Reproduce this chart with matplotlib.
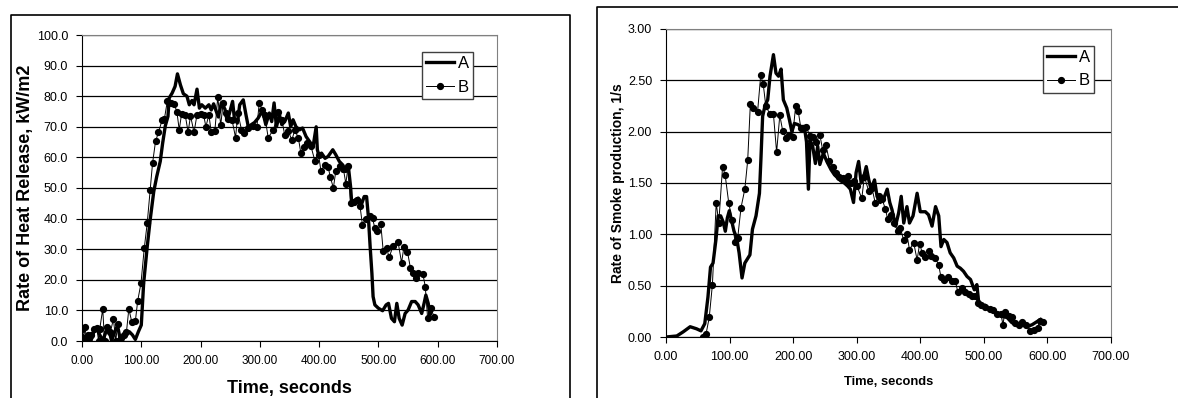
import numpy as np
import matplotlib
matplotlib.use("Agg")
import matplotlib.pyplot as plt
from matplotlib.lines import Line2D

plt.rcParams['font.family'] = ['Liberation Sans', 'DejaVu Sans']

# ---------------- Heat release (left panel) ----------------
hrr_t_a = [0, 5, 10, 15, 20, 25, 30, 35, 40, 45, 50, 55, 60, 65, 70, 75, 80, 85, 90, 95,
           100, 104, 110, 115, 121, 126, 132, 136, 140.5, 145, 147, 152, 157, 161, 166, 171,
           177, 181, 185.5, 189, 194, 198, 202, 208, 214, 218, 222, 226, 230, 235, 241, 244.5,
           248, 254, 257, 262, 266, 272, 276.6, 281, 285.5, 291, 297, 302, 306, 310, 316, 320,
           324, 328, 333, 337, 342, 348, 352, 356, 361, 367, 372, 378, 382, 386, 390, 395, 397,
           400, 404, 410, 415, 423, 428, 434, 440, 445, 449, 453, 455, 460, 466, 472, 476, 480,
           483, 486, 489, 491, 494, 500, 507, 513, 517, 522, 527, 531, 535, 540, 545, 550, 556,
           562, 567, 573, 577, 580, 584, 587, 590]
hrr_a = [2, 0, 2, 0, 3, 4, 2, 0, 3, 4, 0, 3, 5, 0, 2, 3, 3, 2, 0.5, 3,
         5.2, 18.9, 30.8, 39.6, 48.8, 53.7, 58.7, 64.6, 70.3, 73.4, 79.4, 81.0, 83.2, 87.3, 83.7, 80.8,
         80.0, 77.2, 78.6, 77.2, 82.3, 76.1, 77.2, 76.1, 77.2, 75.5, 77.5, 75.3, 73.2, 77.8, 75.8, 72.3,
         73.9, 78.3, 72.8, 71.2, 77.2, 78.8, 73.9, 69.5, 70.7, 71.4, 72.8, 74.5, 74.0, 70.7, 74.5, 71.7,
         77.8, 70.0, 74.0, 70.7, 71.7, 74.5, 70.0, 72.3, 70.0, 69.0, 69.6, 66.8, 65.7, 64.6, 63.8, 70.0, 62.5,
         60.3, 61.4, 59.7, 60.3, 62.5, 60.9, 58.7, 57.5, 55.4, 57.5, 50.5, 45.0, 46.0, 46.7, 45.0, 47.2, 47.2,
         40.7, 30.9, 22.1, 14.5, 11.8, 10.7, 9.9, 11.8, 12.3, 7.4, 6.3, 12.3, 7.4, 5.2, 9.0, 10.1, 12.9,
         12.9, 11.8, 9.0, 12.3, 15.0, 12.3, 8.5, 10.1]

hrr_t_b = [0, 3, 5, 8, 10, 15, 20, 25, 28, 30, 35, 38, 43, 48, 53, 57, 60, 65, 70, 75,
           79, 84, 90, 94, 99.5, 105, 110, 115, 119, 124, 129, 135, 139, 144, 150, 155, 160,
           164, 168, 174, 179, 183, 189, 194, 200, 205, 209, 214, 218, 224, 229, 234, 238, 243,
           247, 253, 259, 263, 269, 274, 280, 288, 295, 299, 304, 308, 314, 323, 331, 337, 342,
           348, 354, 359, 365, 369, 374, 380, 386, 393, 399, 403, 410, 415, 419, 424, 428, 435,
           441, 445, 449, 453, 459, 464, 469, 473, 479, 486, 490, 494, 498, 504, 508, 514, 518,
           525, 533, 539, 543, 549, 554, 559, 563, 567, 575, 579, 583, 588, 594]
hrr_b = [3.8, 1.0, 4.7, 0.0, 2.0, 2.0, 4.0, 4.2, 0.0, 4.0, 10.5, 0.0, 4.5, 3.0, 7.2, 0.0, 5.5, 1.0, 2.0, 3.0,
         10.5, 6.2, 6.5, 13.2, 18.9, 30.3, 38.5, 49.4, 58.1, 65.2, 68.2, 72.1, 72.6, 78.5, 77.8, 77.6, 75.0,
         69.0, 74.3, 74.0, 68.2, 73.6, 68.2, 74.0, 74.3, 74.0, 70.0, 74.0, 68.2, 68.5, 79.7, 70.5, 77.8, 74.5,
         72.5, 72.3, 66.5, 74.5, 69.0, 68.0, 69.6, 70.3, 70.0, 77.8, 75.5, 74.0, 66.5, 69.0, 75.0, 72.3, 67.3,
         68.5, 65.7, 69.0, 66.3, 61.6, 63.5, 64.7, 63.8, 58.7, 60.9, 55.6, 57.6, 57.0, 53.5, 50.0, 55.4, 57.3,
         56.2, 51.4, 57.3, 45.0, 45.5, 46.0, 44.0, 38.0, 40.0, 41.0, 40.1, 36.9, 35.8, 38.2, 29.5, 30.3, 27.3,
         31.2, 32.5, 25.6, 30.7, 29.2, 23.8, 22.3, 20.5, 22.3, 21.9, 17.8, 7.4, 10.7, 8.0]

# ---------------- Smoke production (right panel) ----------------
smk_t_a = [0, 17, 27, 38, 48, 55, 61, 66, 70, 74, 78.6, 82, 86, 90, 93.3, 96.5, 99.6, 103, 107, 111,
           115, 119.6, 124, 128, 132, 136, 141.6, 147, 149.5, 152, 156, 160, 163.6, 169, 173, 177, 181,
           184.6, 190, 194, 198, 202, 207, 212, 217.6, 221, 224, 226.5, 230.7, 235, 238.6, 242, 247.5,
           253, 259.6, 265, 270, 275, 280.5, 285.8, 290, 295, 299, 303, 307, 311, 315, 319, 322.5, 328,
           332, 337, 342, 348, 352, 355.5, 361, 366, 370, 374, 379, 383, 388.6, 395, 400, 408, 413,
           418.5, 424, 429, 432.6, 437, 442, 447, 452.6, 458, 463, 468, 473.5, 479, 485, 489, 492, 497,
           502, 507.6, 513, 520.7, 528.6, 536.5, 544, 552, 560, 568, 576, 583.6, 589]
smk_a = [0, 0.01, 0.05, 0.1, 0.08, 0.06, 0.13, 0.39, 0.68, 0.72, 0.95, 1.18, 1.18, 1.12, 1.03, 1.16, 1.23, 1.14, 1.03, 0.97,
         0.82, 0.575, 0.72, 0.76, 0.80, 1.05, 1.18, 1.40, 1.76, 2.15, 2.26, 2.31, 2.54, 2.75, 2.57, 2.54, 2.61,
         2.31, 2.23, 2.12, 2.0, 2.08, 2.07, 2.05, 2.05, 1.9, 1.44, 1.92, 1.86, 1.69, 1.86, 1.68, 1.79,
         1.71, 1.63, 1.58, 1.55, 1.52, 1.5, 1.47, 1.44, 1.31, 1.6, 1.71, 1.5, 1.56, 1.66, 1.53, 1.44, 1.53,
         1.37, 1.31, 1.34, 1.44, 1.31, 1.24, 1.08, 1.21, 1.37, 1.11, 1.27, 1.11, 1.18, 1.40, 1.22, 1.22, 1.19,
         1.08, 1.27, 1.18, 0.88, 0.95, 0.92, 0.82, 0.77, 0.69, 0.67, 0.64, 0.59, 0.56, 0.46, 0.51, 0.33, 0.30,
         0.31, 0.27, 0.25, 0.23, 0.2, 0.19, 0.14, 0.12, 0.12, 0.10, 0.12, 0.15, 0.17]

smk_t_b = [58, 63, 68, 73, 79, 83, 89, 93, 98.6, 104, 108.5, 112.7, 118, 124, 128.5, 132.7, 137, 144,
           149, 153, 157, 163.6, 169, 174, 179, 183.5, 189, 194, 199, 204, 208, 212, 216, 220, 226.5,
           230.7, 236, 242, 246.5, 251.7, 257, 262, 267, 272.7, 278, 283, 287, 291, 296, 300.5, 308,
           312, 319, 324, 329, 334.6, 340, 345, 348.7, 354, 359, 364.5, 368.7, 374, 379, 383, 389.6,
           395, 399, 403, 408, 413, 417, 423.7, 429, 432.6, 438, 443, 450, 455, 459, 465.7, 471, 476,
           481, 486.6, 490, 495.6, 502, 509, 514, 520.7, 527, 530, 533, 539, 544, 549.6, 555, 560, 567,
           573, 579.5, 584.7, 588, 593]
smk_b = [0.0, 0.03, 0.19, 0.51, 1.31, 1.11, 1.66, 1.58, 1.31, 1.14, 0.93, 0.96, 1.26, 1.44, 1.72, 2.27, 2.23, 2.19,
         2.55, 2.46, 2.25, 2.17, 2.17, 1.80, 2.16, 2.01, 1.94, 1.97, 1.95, 2.25, 2.2, 2.04, 2.04, 2.05, 1.96,
         1.95, 1.9, 1.97, 1.82, 1.87, 1.71, 1.66, 1.6, 1.56, 1.55, 1.52, 1.57, 1.5, 1.52, 1.47, 1.35,
         1.56, 1.42, 1.45, 1.31, 1.37, 1.34, 1.25, 1.15, 1.19, 1.11, 1.03, 1.06, 0.94, 1.0, 0.85, 0.92,
         0.75, 0.91, 0.82, 0.78, 0.84, 0.79, 0.77, 0.70, 0.58, 0.56, 0.58, 0.55, 0.55, 0.44, 0.48, 0.44, 0.42,
         0.40, 0.40, 0.33, 0.31, 0.29, 0.27, 0.26, 0.22, 0.22, 0.12, 0.24, 0.20, 0.19, 0.14, 0.12, 0.15, 0.12,
         0.06, 0.07, 0.09, 0.16, 0.15]


def style_axes(ax, ymax, ystep, yfmt, xsize, ysize):
    ax.set_xlim(0, 700)
    ax.set_ylim(0, ymax)
    ax.set_xticks(np.arange(0, 701, 100))
    ax.set_xticklabels(["%.2f" % v for v in np.arange(0, 701, 100)], fontsize=xsize)
    yt = np.arange(0, ymax + ystep / 2, ystep)
    ax.set_yticks(yt)
    ax.set_yticklabels([yfmt % v for v in yt], fontsize=ysize)
    ax.yaxis.grid(True, color='black', linewidth=0.9)
    ax.set_axisbelow(True)
    ax.spines['top'].set_color('#808080')
    ax.spines['right'].set_color('#808080')
    for s in ['left', 'bottom']:
        ax.spines[s].set_color('black')
    ax.tick_params(direction='out', length=4, width=0.8, colors='black', pad=6)


fig = plt.figure(figsize=(11.78, 3.98), dpi=100)

# panel frames
fig.add_artist(Line2D([11 / 1178, 11 / 1178, 570 / 1178, 570 / 1178],
                      [0, 1 - 15 / 398, 1 - 15 / 398, 0], color='black', lw=1.2))
fig.add_artist(Line2D([597 / 1178, 597 / 1178, 1],
                      [0, 1 - 7 / 398, 1 - 7 / 398], color='black', lw=1.2))

leg_kw = dict(loc='upper left', borderaxespad=0, fontsize=12, frameon=True, fancybox=False,
              edgecolor='#404040', framealpha=1, handlelength=1.7, handletextpad=0.2,
              borderpad=0.25, labelspacing=0.5)

ax1 = fig.add_axes([82 / 1178, 1 - 341 / 398, 415 / 1178, 306 / 398])
style_axes(ax1, 100, 10, "%.1f", 8.5, 9)
ax1.plot(hrr_t_a, hrr_a, color='black', lw=2.4, label='A')
ax1.plot(hrr_t_b, hrr_b, color='black', lw=0.7, marker='o', markersize=4.2, label='B')
ax1.set_xlabel("Time, seconds", fontsize=13, fontweight='bold', va='center')
ax1.set_ylabel("Rate of Heat Release, kW/m2", fontsize=13, fontweight='bold', va='center')
ax1.xaxis.set_label_coords(0.5, -0.154)
ax1.yaxis.set_label_coords(-0.135, 0.5)
ax1.legend(bbox_to_anchor=(0.819, 0.944), **leg_kw)

ax2 = fig.add_axes([666 / 1178, 1 - 337 / 398, 445 / 1178, 308 / 398])
style_axes(ax2, 3, 0.5, "%.2f", 9, 9)
ax2.plot(smk_t_a, smk_a, color='black', lw=2.4, label='A')
ax2.plot(smk_t_b, smk_b, color='black', lw=0.7, marker='o', markersize=4.2, label='B')
ax2.set_xlabel("Time, seconds", fontsize=9.3, fontweight='bold', va='center')
ax2.set_ylabel("Rate of Smoke production, 1/s", fontsize=10, fontweight='bold', va='center')
ax2.xaxis.set_label_coords(0.5, -0.146)
ax2.yaxis.set_label_coords(-0.108, 0.5)
ax2.legend(bbox_to_anchor=(0.847, 0.945), **leg_kw)

fig.savefig("out.png", dpi=100, facecolor='white')
